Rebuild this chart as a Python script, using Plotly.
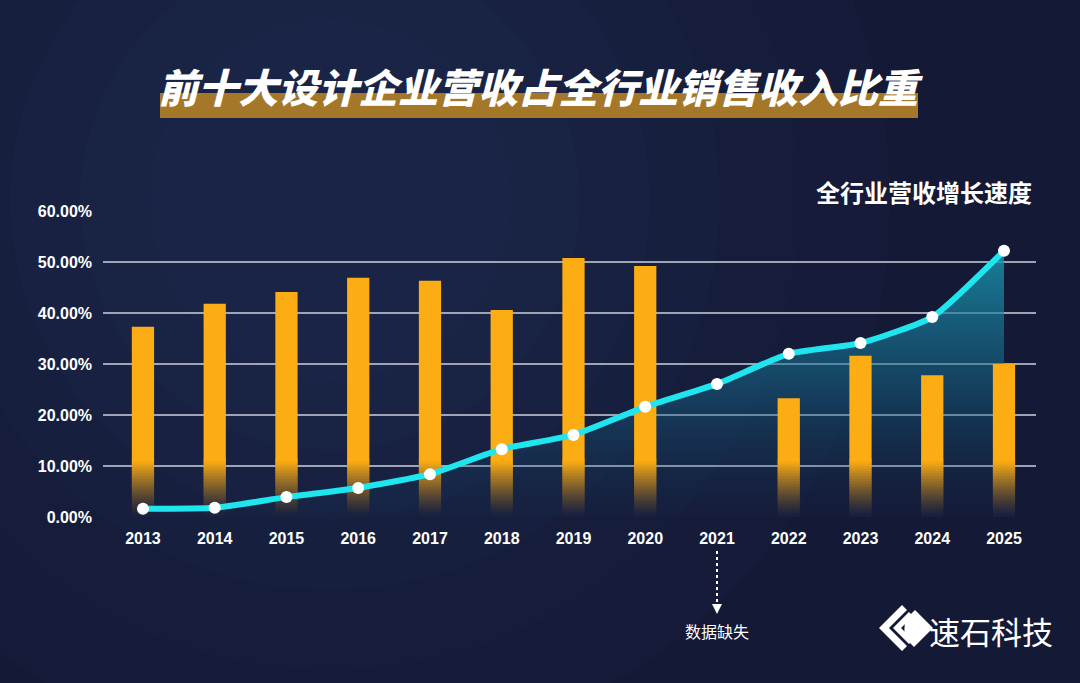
import plotly.graph_objects as go

W, H = 1080, 683
PL, PR, PT, PB = 103, 1036, 211, 517  # plot area in pixels

# data (percent)
years = ['2013', '2014', '2015', '2016', '2017', '2018', '2019',
         '2020', '2021', '2022', '2023', '2024', '2025']
top10_share = [37.3, 41.8, 44.1, 46.9, 46.3, 40.6, 50.8,
               49.2, None, 23.3, 31.6, 27.8, 30.0]  # 2021 missing
industry_growth = [1.6, 1.8, 3.9, 5.7, 8.4, 13.3, 16.1,
                   21.6, 26.1, 32.0, 34.1, 39.2, 52.2]
y_ticks = [0, 10, 20, 30, 40, 50, 60]
missing_year = '2021'

TITLE = '前十大设计企业营收占全行业销售收入比重'
LINE_NAME = '全行业营收增长速度'
MISSING_NOTE = '数据缺失'
BRAND = '速石科技'

BG = '#141935'
ORANGE = (253, 173, 20)
FADE_TO = (24, 32, 62)
CYAN = '#1fe6ee'
FADE_TOP = 11  # bars fade out below this value
FADE_STEPS = 22


# pixel -> paper (paper is the plot area)
def px(x):
    return (x - PL) / (PR - PL)


def py(y):
    return (PB - y) / (PB - PT)


fig = go.Figure()

# gradient area under the growth line (bottom layer)
fig.add_trace(go.Scatter(
    x=years, y=industry_growth, mode='lines', fill='tozeroy',
    line=dict(width=0, shape='spline', smoothing=0.5),
    fillgradient=dict(type='vertical', start=0, stop=max(industry_growth),
                      colorscale=[[0, 'rgba(20,60,100,0.05)'],
                                  [0.5, 'rgba(22,110,145,0.48)'],
                                  [1, 'rgba(26,150,175,0.82)']]),
    hoverinfo='skip', showlegend=False, yaxis='y'))

# bars: fading bottom slices (opaque, slightly overlapping) + solid part on top
step = FADE_TOP / FADE_STEPS
for i in range(FADE_STEPS):
    t = ((i + 0.5) / FADE_STEPS) ** 1.3
    col = tuple(round(f + (o - f) * t) for o, f in zip(ORANGE, FADE_TO))
    fig.add_trace(go.Bar(
        x=years, y=[step * 1.6 if v is not None else None for v in top10_share],
        base=[i * step if v is not None else None for v in top10_share],
        width=0.31,
        marker=dict(color='rgb(%d,%d,%d)' % col, line=dict(width=0)),
        showlegend=False, hoverinfo='skip', yaxis='y2'))
solid_base = [FADE_TOP if v is not None else None for v in top10_share]
solid_h = [(v - FADE_TOP) if v is not None else None for v in top10_share]
fig.add_trace(go.Bar(
    x=years, y=solid_h, base=solid_base, width=0.31,
    marker=dict(color='rgb(%d,%d,%d)' % ORANGE, line=dict(width=0)),
    showlegend=False, yaxis='y2'))

# growth line with markers (top layer)
fig.add_trace(go.Scatter(
    x=years, y=industry_growth, mode='lines+markers',
    line=dict(color=CYAN, width=6, shape='spline', smoothing=0.5),
    marker=dict(color='white', size=12, line=dict(width=0)),
    showlegend=False, yaxis='y3'))

# soft glow in the background
shapes = []
cx, cy = 330, 200
for r in [560, 470, 390, 320, 250, 180]:
    shapes.append(dict(type='circle', xref='paper', yref='paper', layer='below',
                       x0=px(cx - r), x1=px(cx + r), y0=py(cy + r), y1=py(cy - r),
                       fillcolor='rgba(48,62,125,0.06)', line=dict(width=0)))
# title underline bar
shapes.append(dict(type='rect', xref='paper', yref='paper', layer='below',
                   x0=px(160), x1=px(918), y0=py(118), y1=py(93),
                   fillcolor='#a57829', line=dict(width=0)))
# dotted pointer for missing year (category index, so the label is not read as a number)
mi = years.index(missing_year)
shapes.append(dict(type='line', xref='x', yref='paper', x0=mi, x1=mi,
                   y0=py(551), y1=py(604), line=dict(color='white', width=2, dash='dot')))


# brand icon (paths in pixel space converted to paper)
def path(points):
    return 'M ' + ' L '.join('%.5f,%.5f' % (px(a), py(b)) for a, b in points) + ' Z'


icon_parts = [
    [(902, 605), (879, 628), (902, 651), (907, 646), (889, 628), (907, 610)],
    [(909, 612), (893, 628), (909, 644), (913, 640), (901, 628), (913, 616)],
    [(915, 610), (933, 628), (914, 647), (904, 637), (905, 620)],
]
for pts in icon_parts:
    shapes.append(dict(type='path', xref='paper', yref='paper', path=path(pts),
                       fillcolor='white', line=dict(width=0)))

annotations = [
    dict(text=TITLE, xref='paper', yref='paper', x=px(540), y=py(86), xanchor='center', yanchor='middle',
         showarrow=False,
         font=dict(family='Noto Sans CJK SC', size=40, color='white', weight=900, style='italic')),
    dict(text=LINE_NAME, xref='paper', yref='paper', x=px(1034), y=py(191), xanchor='right',
         yanchor='middle', showarrow=False,
         font=dict(family='Noto Sans CJK SC', size=24, color='white', weight='bold')),
    dict(text='', xref='x', yref='paper', x=mi, y=py(614), ax=0, ay=-10,
         showarrow=True, arrowhead=2, arrowsize=1, arrowwidth=2, arrowcolor='white'),
    dict(text=MISSING_NOTE, xref='x', yref='paper', x=mi, y=py(631), xanchor='center',
         yanchor='middle', showarrow=False,
         font=dict(family='Noto Sans CJK SC', size=16, color='white')),
    dict(text=BRAND, xref='paper', yref='paper', x=px(927), y=py(630), xanchor='left',
         yanchor='middle', showarrow=False,
         font=dict(family='Noto Sans CJK SC', size=31, color='white')),
]

yrange = [0, 60]
tickfont = dict(family='Liberation Sans', size=16, color='white', weight='bold')

fig.update_layout(
    width=W, height=H,
    margin=dict(l=PL, r=W - PR, t=PT, b=H - PB),
    paper_bgcolor=BG, plot_bgcolor='rgba(0,0,0,0)',
    barmode='overlay', showlegend=False,
    shapes=shapes, annotations=annotations,
    xaxis=dict(type='category', range=[-0.557, 12.446], showgrid=False, zeroline=False,
               showline=False, ticks='', tickfont=tickfont, ticklabelstandoff=10),
    yaxis=dict(range=yrange, tickvals=y_ticks, ticktext=['%.2f%%' % v for v in y_ticks],
               showgrid=True, gridcolor='rgba(205,208,220,0.75)', gridwidth=1.5,
               zeroline=False, showline=False, ticks='', tickfont=tickfont, ticklabelstandoff=10),
    yaxis2=dict(range=yrange, overlaying='y', visible=False),
    yaxis3=dict(range=yrange, overlaying='y', visible=False),
)

fig.write_html('out.html', config={'displayModeBar': False},
               post_script="document.body.style.margin='0';")
